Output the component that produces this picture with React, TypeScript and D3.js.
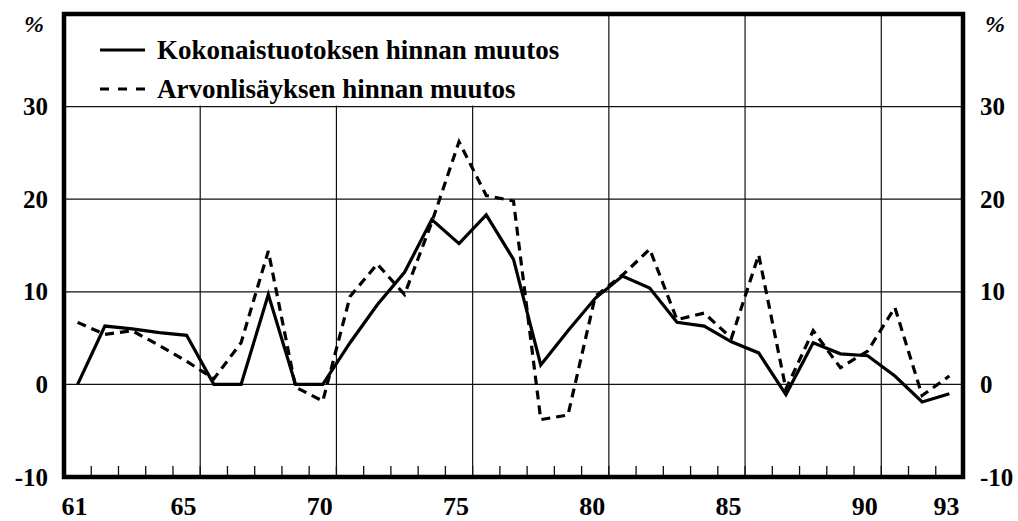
import React, { useEffect, useRef } from "react";
import * as d3 from "d3";

const years = d3.range(61, 94);
const totalOutputPrice = [
  0, 6.3, 6.0, 5.6, 5.3, 0, 0, 9.7, 0, 0,
  4.5, 8.6, 12.1, 17.8, 15.2, 18.3, 13.5, 2.1, 5.8, 9.3,
  11.7, 10.4, 6.7, 6.3, 4.6, 3.4, -1.1, 4.5, 3.3, 3.1,
  0.9, -1.9, -1.0,
];
const valueAddedPrice = [
  6.7, 5.4, 5.8, 4.2, 2.5, 0.6, 4.5, 14.4, -0.3, -1.8,
  9.5, 13.0, 9.7, 17.5, 26.2, 20.4, 19.8, -3.8, -3.3, 9.5,
  11.8, 14.6, 7.0, 7.7, 5.0, 14.0, -0.5, 5.8, 1.8, 3.6,
  8.3, -1.2, 0.9,
];
const yTicks = [-10, 0, 10, 20, 30];
const xLabels = [61, 65, 70, 75, 80, 85, 90, 93];
const gridYears = [65.5, 70.5, 75.5, 80.5, 85.5, 90.5];
const legendLabels = ["Kokonaistuotoksen hinnan muutos", "Arvonlisäyksen hinnan muutos"];

const W = 1018;
const H = 521;
const FONT = "'Liberation Serif', 'Times New Roman', serif";

export default function App() {
  const ref = useRef<SVGSVGElement | null>(null);

  useEffect(() => {
    const svg = d3.select(ref.current);
    svg.selectAll("*").remove();

    const x = d3.scaleLinear().domain([60.5, 93.5]).range([64, 963]);
    const y = d3.scaleLinear().domain([-10, 40]).range([477, 14]);

    svg.append("rect").attr("width", W).attr("height", H).attr("fill", "#fff");

    // horizontal gridlines
    svg
      .append("g")
      .selectAll("line")
      .data([0, 10, 20, 30])
      .join("line")
      .attr("x1", x(60.5))
      .attr("x2", x(93.5))
      .attr("y1", (d) => y(d))
      .attr("y2", (d) => y(d))
      .attr("stroke", "#111")
      .attr("stroke-width", 1.2);

    // vertical gridlines
    svg
      .append("g")
      .selectAll("line")
      .data(gridYears)
      .join("line")
      .attr("x1", (d) => x(d))
      .attr("x2", (d) => x(d))
      .attr("y1", y(40))
      .attr("y2", y(-10))
      .attr("stroke", "#111")
      .attr("stroke-width", 1.2);

    // legend background covers gridlines above the 30 line
    svg
      .append("rect")
      .attr("x", x(60.5))
      .attr("y", y(40))
      .attr("width", 590 - x(60.5))
      .attr("height", y(30) - y(40) - 1)
      .attr("fill", "#fff");

    // bottom inner ticks
    const tickYears = d3.range(61.5, 93.5, 1);
    svg
      .append("g")
      .selectAll("line")
      .data(tickYears)
      .join("line")
      .attr("x1", (d) => x(d))
      .attr("x2", (d) => x(d))
      .attr("y1", y(-10))
      .attr("y2", y(-10) - 11)
      .attr("stroke", "#111")
      .attr("stroke-width", 1.3);

    // frame
    svg
      .append("rect")
      .attr("x", x(60.5))
      .attr("y", y(40))
      .attr("width", x(93.5) - x(60.5))
      .attr("height", y(-10) - y(40))
      .attr("fill", "none")
      .attr("stroke", "#000")
      .attr("stroke-width", 4.5);

    const line = d3
      .line<number>()
      .x((_, i) => x(years[i]))
      .y((d) => y(d));

    svg
      .append("path")
      .datum(valueAddedPrice)
      .attr("d", line)
      .attr("fill", "none")
      .attr("stroke", "#000")
      .attr("stroke-width", 3.2)
      .attr("stroke-dasharray", "9,6");

    svg
      .append("path")
      .datum(totalOutputPrice)
      .attr("d", line)
      .attr("fill", "none")
      .attr("stroke", "#000")
      .attr("stroke-width", 3.2)
      .attr("stroke-linejoin", "miter");

    // y labels left and right
    const yl = svg.append("g").attr("font-family", FONT).attr("font-weight", "bold").attr("font-size", 25);
    yl.selectAll("text.l")
      .data(yTicks)
      .join("text")
      .attr("class", "l")
      .attr("x", 48)
      .attr("y", (d) => y(d) + 8.5)
      .attr("text-anchor", "end")
      .text((d) => String(d));
    yl.selectAll("text.r")
      .data(yTicks)
      .join("text")
      .attr("class", "r")
      .attr("x", 980)
      .attr("y", (d) => y(d) + 8.5)
      .attr("text-anchor", "start")
      .text((d) => String(d));

    const pct = svg.append("g").attr("font-family", FONT).attr("font-weight", "bold").attr("font-style", "italic").attr("font-size", 24);
    pct.append("text").attr("x", 24).attr("y", 32).text("%");
    pct.append("text").attr("x", 985).attr("y", 32).text("%");

    // x labels
    svg
      .append("g")
      .attr("font-family", FONT)
      .attr("font-weight", "bold")
      .attr("font-size", 26)
      .selectAll("text")
      .data(xLabels)
      .join("text")
      .attr("x", (d) => x(d) - 3)
      .attr("y", 515)
      .attr("text-anchor", "middle")
      .text((d) => String(d));

    // legend
    const lg = svg.append("g").attr("font-family", FONT).attr("font-weight", "bold").attr("font-size", 27);
    const rows = [50, 89];
    lg.append("line").attr("x1", 100).attr("x2", 145).attr("y1", rows[0]).attr("y2", rows[0]).attr("stroke", "#000").attr("stroke-width", 3.2);
    lg.append("line").attr("x1", 100).attr("x2", 145).attr("y1", rows[1]).attr("y2", rows[1]).attr("stroke", "#000").attr("stroke-width", 3.2).attr("stroke-dasharray", "9,9");
    lg.selectAll("text")
      .data(legendLabels)
      .join("text")
      .attr("x", 157)
      .attr("y", (_, i) => rows[i] + 9)
      .text((d) => d);
  }, []);

  return (
    <svg
      ref={ref}
      width={W}
      height={H}
      style={{ position: "absolute", left: 0, top: 0, background: "#fff" }}
    />
  );
}
